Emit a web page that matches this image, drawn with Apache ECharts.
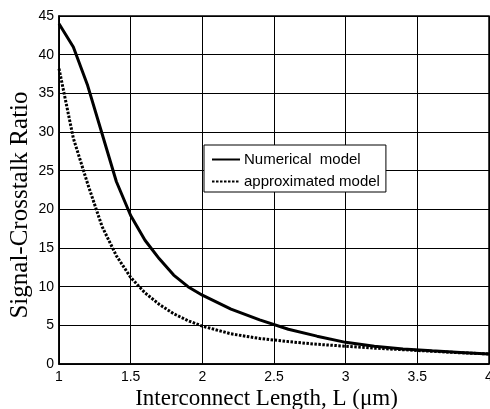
<!DOCTYPE html>
<html>
<head>
<meta charset="utf-8">
<script src="https://cdn.jsdelivr.net/npm/echarts@6/dist/echarts.min.js"></script>
<style>html,body{margin:0;padding:0;background:#fff}#c{width:490px;height:409px}</style>
</head>
<body>
<div id="c"></div>
<script>
const lengths = [1.0,1.1,1.2,1.3,1.4,1.5,1.6,1.7,1.8,1.9,2.0,2.2,2.4,2.6,2.8,3.0,3.2,3.4,3.6,3.8,4.0];
const numerical = [44,41,36,29.8,23.6,19.2,16,13.6,11.5,10.0,8.9,7.1,5.7,4.5,3.6,2.8,2.3,1.95,1.7,1.5,1.3];
const approximated = [38.2,29.2,23.3,17.8,14.0,11.2,9.2,7.7,6.5,5.6,4.9,3.9,3.3,2.9,2.55,2.3,2.05,1.85,1.65,1.45,1.3];
const seriesNames = ['Numerical  model','approximated model'];
const xTitle = 'Interconnect Length, L (\u03bcm)';
const yTitle = 'Signal-Crosstalk Ratio';

const chart = echarts.init(document.getElementById('c'), null, {renderer:'canvas'});
const pair = (xs, ys) => xs.map((x,i)=>[x, ys[i]]);
const sans = 'Liberation Sans, Arial, sans-serif';
const serif = 'Liberation Serif, Times New Roman, serif';
chart.setOption({
  animation:false,
  backgroundColor:'#fff',
  grid:{left:59,right:1,top:16,bottom:45,containLabel:false,outerBoundsMode:'none',
        show:true,borderColor:'#000',borderWidth:1.5,backgroundColor:'transparent'},
  legend:{
    left:204, top:145, orient:'vertical',
    padding:[7,6,3,7], itemGap:7, itemWidth:28, itemHeight:14,
    borderColor:'#000', borderWidth:1, backgroundColor:'#fff',
    itemStyle:{opacity:0},
    textStyle:{fontFamily:sans,fontSize:15,color:'#000',padding:[0,0,0,-1]},
    data:seriesNames
  },
  xAxis:{
    type:'value', min:1, max:4, interval:0.5,
    name:xTitle, nameLocation:'middle', nameGap:23, nameMoveOverlap:false,
    nameTextStyle:{fontFamily:serif,fontSize:23,color:'#000',padding:[0,15,0,0]},
    axisLine:{show:true,lineStyle:{color:'#000',width:1.5}},
    axisTick:{show:false},
    axisLabel:{fontFamily:sans,fontSize:14,color:'#000',margin:6,showMaxLabel:true},
    splitLine:{show:true,lineStyle:{color:'#000',width:1}}
  },
  yAxis:{
    type:'value', min:0, max:45, interval:5,
    name:yTitle, nameLocation:'middle', nameGap:26, nameMoveOverlap:false,
    nameTextStyle:{fontFamily:serif,fontSize:25,color:'#000',padding:[0,30,0,0]},
    axisLine:{show:true,lineStyle:{color:'#000',width:1.5}},
    axisTick:{show:false},
    axisLabel:{fontFamily:sans,fontSize:14,color:'#000',margin:5},
    splitLine:{show:true,lineStyle:{color:'#000',width:1}}
  },
  series:[
    {name:seriesNames[0],type:'line',data:pair(lengths,numerical),symbol:'none',smooth:false,
     lineStyle:{color:'#000',width:3,type:'solid'},itemStyle:{color:'#000'}},
    {name:seriesNames[1],type:'line',data:pair(lengths,approximated),symbol:'none',smooth:false,
     lineStyle:{color:'#000',width:3,type:[2.5,1.5]},itemStyle:{color:'#000'}}
  ]
});
</script>
</body>
</html>
